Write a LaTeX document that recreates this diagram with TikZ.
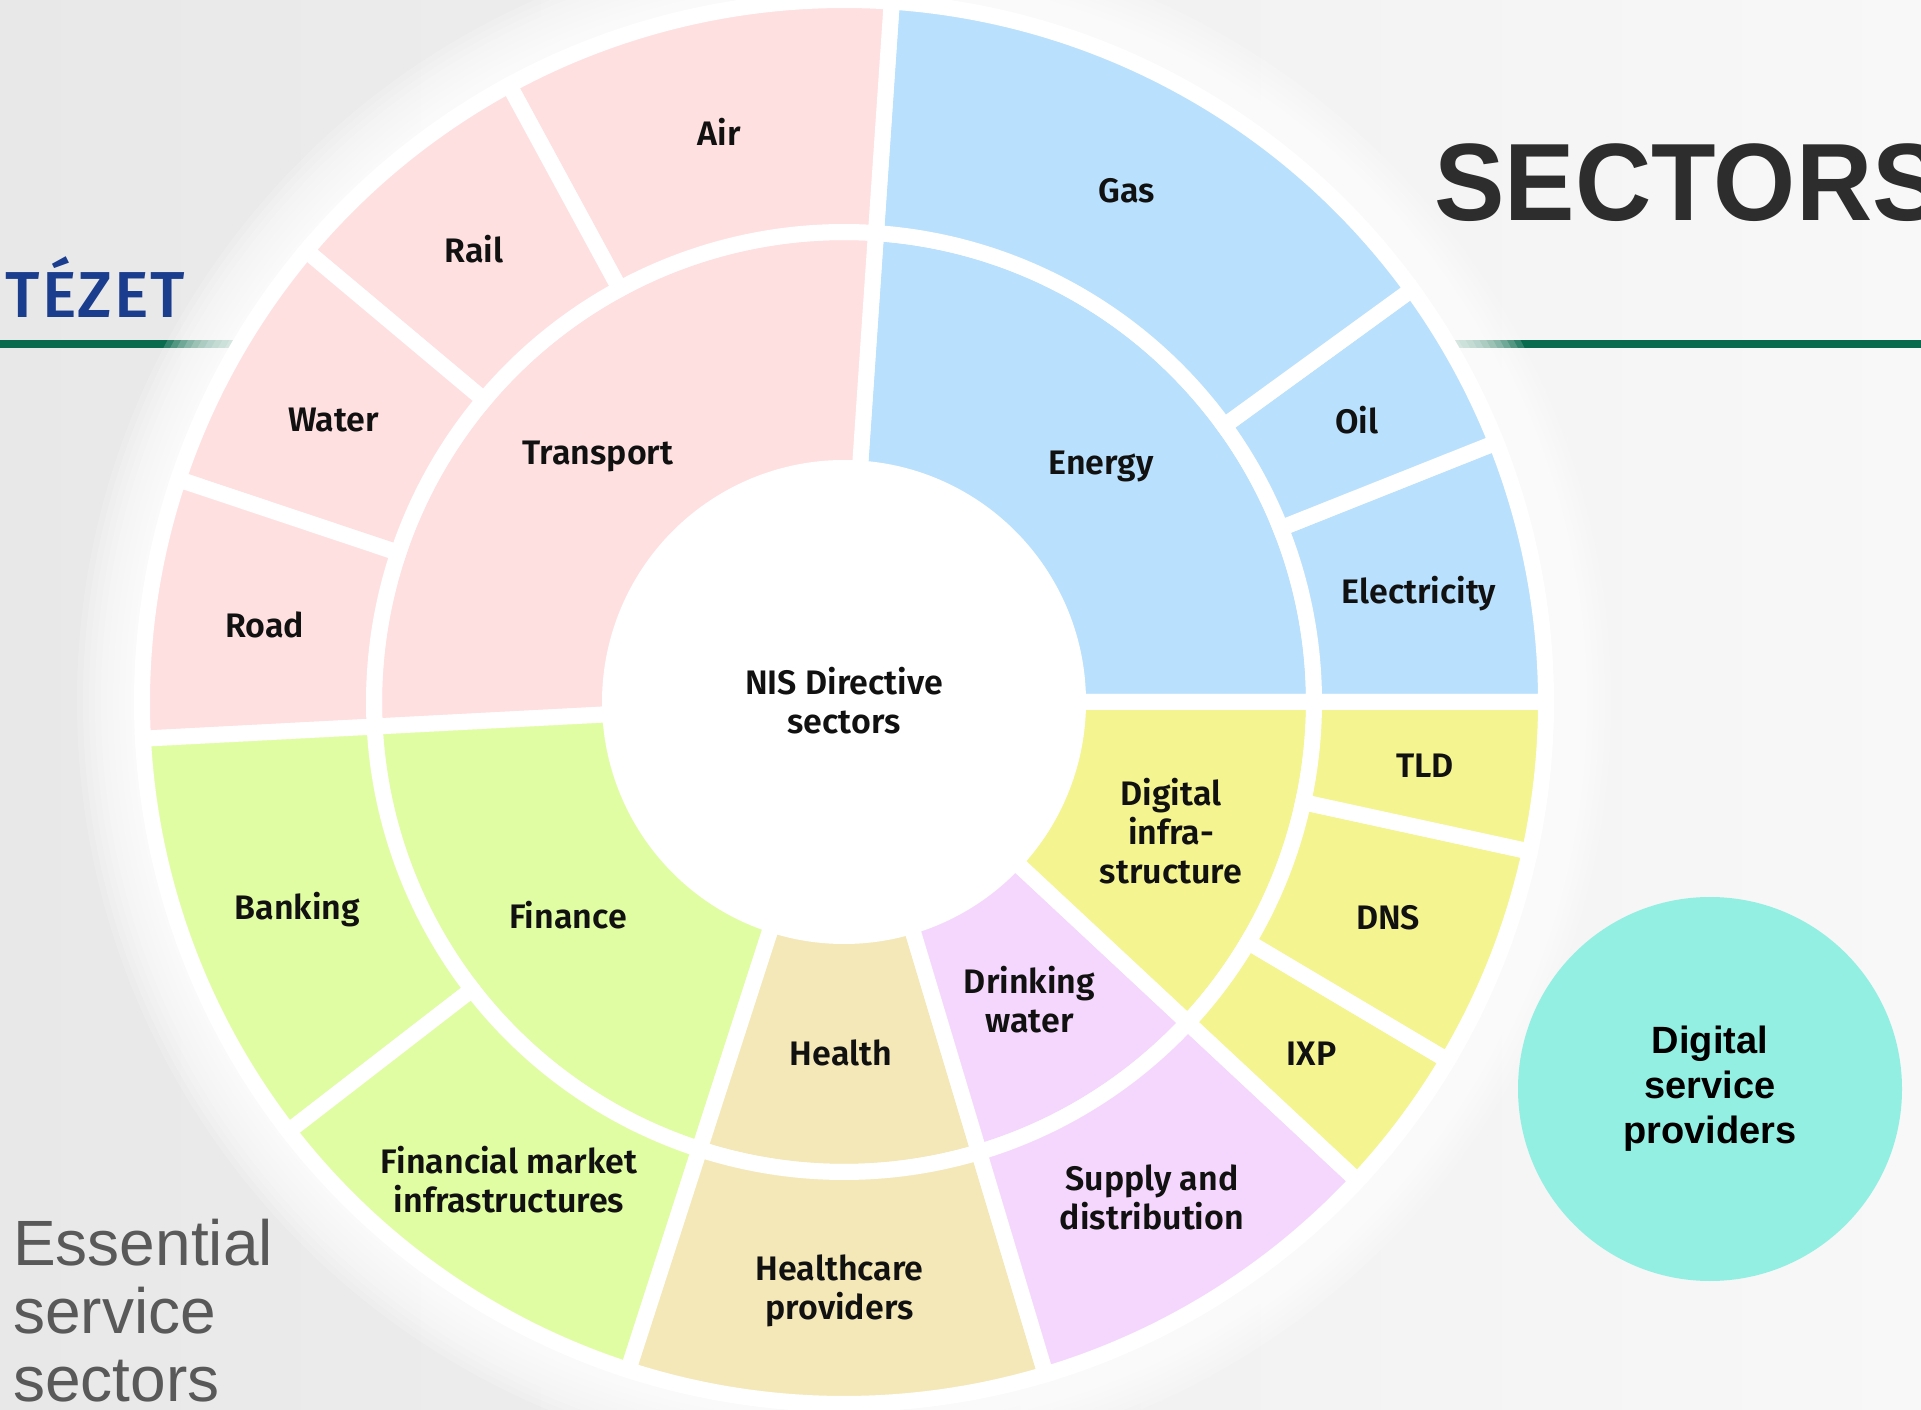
\documentclass[tikz,border=0pt]{standalone}
\usepackage{fontspec}
\newfontfamily\lblfont{Fira Sans SemiBold}
\newfontfamily\instfont{Fira Sans Medium}[LetterSpace=3]
\newfontfamily\hfont{Liberation Sans}
\newfontfamily\titlefont{Liberation Sans}[FakeStretch=0.96]
\usetikzlibrary{calc}
\definecolor{cTrans}{HTML}{FFE0E1}
\definecolor{cEner}{HTML}{B9E0FC}
\definecolor{cFin}{HTML}{E1FDA3}
\definecolor{cHeal}{HTML}{F4E8B8}
\definecolor{cWat}{HTML}{F5D7FD}
\definecolor{cDig}{HTML}{F4F490}
\definecolor{cDSP}{HTML}{94EFE3}
\definecolor{cGreen}{HTML}{086B4D}
\definecolor{cBlue}{HTML}{1B3D8E}
\definecolor{cTitle}{HTML}{2D2D2D}
\definecolor{cEss}{HTML}{595959}
\definecolor{cText}{HTML}{111111}
\definecolor{cBgL}{HTML}{E8E8E8}
\definecolor{cBgR}{HTML}{F8F8F8}
\newcommand{\ringseg}[5]{%
  \filldraw[segline, fill=#1] ([shift={(#2:#4)}]C) arc[start angle=#2, end angle=#3, radius=#4]
    -- ([shift={(#3:#5)}]C) arc[start angle=#3, end angle=#2, radius=#5] -- cycle;}
\begin{document}
\begin{tikzpicture}[x=1pt,y=1pt,
  segline/.style={draw=white, line width=16pt, line join=miter},
  lbl/.style={font=\lblfont\fontsize{34}{39}\selectfont, text=cText, inner sep=0pt, align=center},
  dsplbl/.style={font=\hfont\bfseries\fontsize{38}{45}\selectfont, text=black, align=center},
]
\useasboundingbox (0,0) rectangle (1921,1409);
\shade[left color=cBgL, right color=cBgR] (0,0) rectangle (1921,1409);
\coordinate (C) at (844,707);
% green rule behind the chart
\coordinate (gl) at (0,1064.5);
\coordinate (gr) at (1921,1064.5);
\draw[cGreen, line width=8pt] (gl) -- (gr);
% soft white halo
\foreach \r in {695,701,...,767} \fill[white, fill opacity=0.17] (C) circle[radius=\r];
% inner ring
\def\Ra{234}\def\Rb{470}\def\Rc{702}
\ringseg{cEner}{0}{86.1}{\Ra}{\Rb}
\ringseg{cTrans}{86.1}{183}{\Ra}{\Rb}
\ringseg{cFin}{183}{252.1}{\Ra}{\Rb}
\ringseg{cHeal}{252.1}{286.7}{\Ra}{\Rb}
\ringseg{cWat}{286.7}{317}{\Ra}{\Rb}
\ringseg{cDig}{317}{360}{\Ra}{\Rb}
% outer ring
\ringseg{cEner}{0}{21.7}{\Rb}{\Rc}
\ringseg{cEner}{21.7}{36}{\Rb}{\Rc}
\ringseg{cEner}{36}{86.1}{\Rb}{\Rc}
\ringseg{cTrans}{86.1}{118.5}{\Rb}{\Rc}
\ringseg{cTrans}{118.5}{140}{\Rb}{\Rc}
\ringseg{cTrans}{140}{161.5}{\Rb}{\Rc}
\ringseg{cTrans}{161.5}{183}{\Rb}{\Rc}
\ringseg{cFin}{183}{217.7}{\Rb}{\Rc}
\ringseg{cFin}{217.7}{252.1}{\Rb}{\Rc}
\ringseg{cHeal}{252.1}{286.7}{\Rb}{\Rc}
\ringseg{cWat}{286.7}{317}{\Rb}{\Rc}
\ringseg{cDig}{317}{329.3}{\Rb}{\Rc}
\ringseg{cDig}{329.3}{347.7}{\Rb}{\Rc}
\ringseg{cDig}{347.7}{360}{\Rb}{\Rc}
% centre
\node[circle, fill=white, minimum size=480pt, inner sep=0pt] (hub) at (C) {};
\node[lbl] (nis) at (844,708) {NIS Directive\\sectors};
% inner ring labels
\node[lbl, anchor=base] (energy) at (1101,934) {Energy};
\node[lbl, anchor=base] (transport) at (598,944) {Transport};
\node[lbl, anchor=base] (finance) at (568,480.2) {Finance};
\node[lbl, anchor=base] (health) at (841,343.4) {Health};
\node[lbl] (drink) at (1029.5,409) {Drinking\\water};
\node[lbl] (diginf) at (1171,578) {Digital\\infra-\\structure};
% outer ring labels
\node[lbl, anchor=base] (elec) at (1419,805) {Electricity};
\node[lbl, anchor=base] (oil) at (1356.6,975) {Oil};
\node[lbl, anchor=base] (gas) at (1127,1206) {Gas};
\node[lbl, anchor=base] (air) at (719,1263) {Air};
\node[lbl, anchor=base] (rail) at (474,1146.4) {Rail};
\node[lbl, anchor=base] (water) at (333.4,977.4) {Water};
\node[lbl, anchor=base] (road) at (264.8,771.7) {Road};
\node[lbl, anchor=base] (banking) at (297.3,489.4) {Banking};
\node[lbl] (fmi) at (509,229) {Financial market\\infrastructures};
\node[lbl] (hcp) at (839.5,118) {Healthcare\\providers};
\node[lbl] (supply) at (1152,212) {Supply and\\distribution};
\node[lbl, anchor=base] (ixp) at (1311.6,343.4) {IXP};
\node[lbl, anchor=base] (dns) at (1388,479.3) {DNS};
\node[lbl, anchor=base] (tld) at (1425,631.8) {TLD};
% digital service providers
\node[circle, fill=cDSP, minimum size=384pt, inner sep=0pt, dsplbl] (dsp) at (1710,320) {Digital\\service\\providers};
% page texts
\node[anchor=base west, inner sep=0pt, font=\titlefont\bfseries\fontsize{110}{110}\selectfont, text=cTitle] (title) at (1434,1188) {SECTORS};
\node[anchor=base west, inner sep=0pt, font=\instfont\fontsize{65}{65}\selectfont, text=cBlue] (inst) at (5.5,1091.3) {TÉZET};
\node[anchor=west, inner sep=0pt, align=left, font=\hfont\fontsize{64}{68}\selectfont, text=cEss] (ess) at (13,98.5) {Essential\\service\\sectors};
\end{tikzpicture}
\end{document}
